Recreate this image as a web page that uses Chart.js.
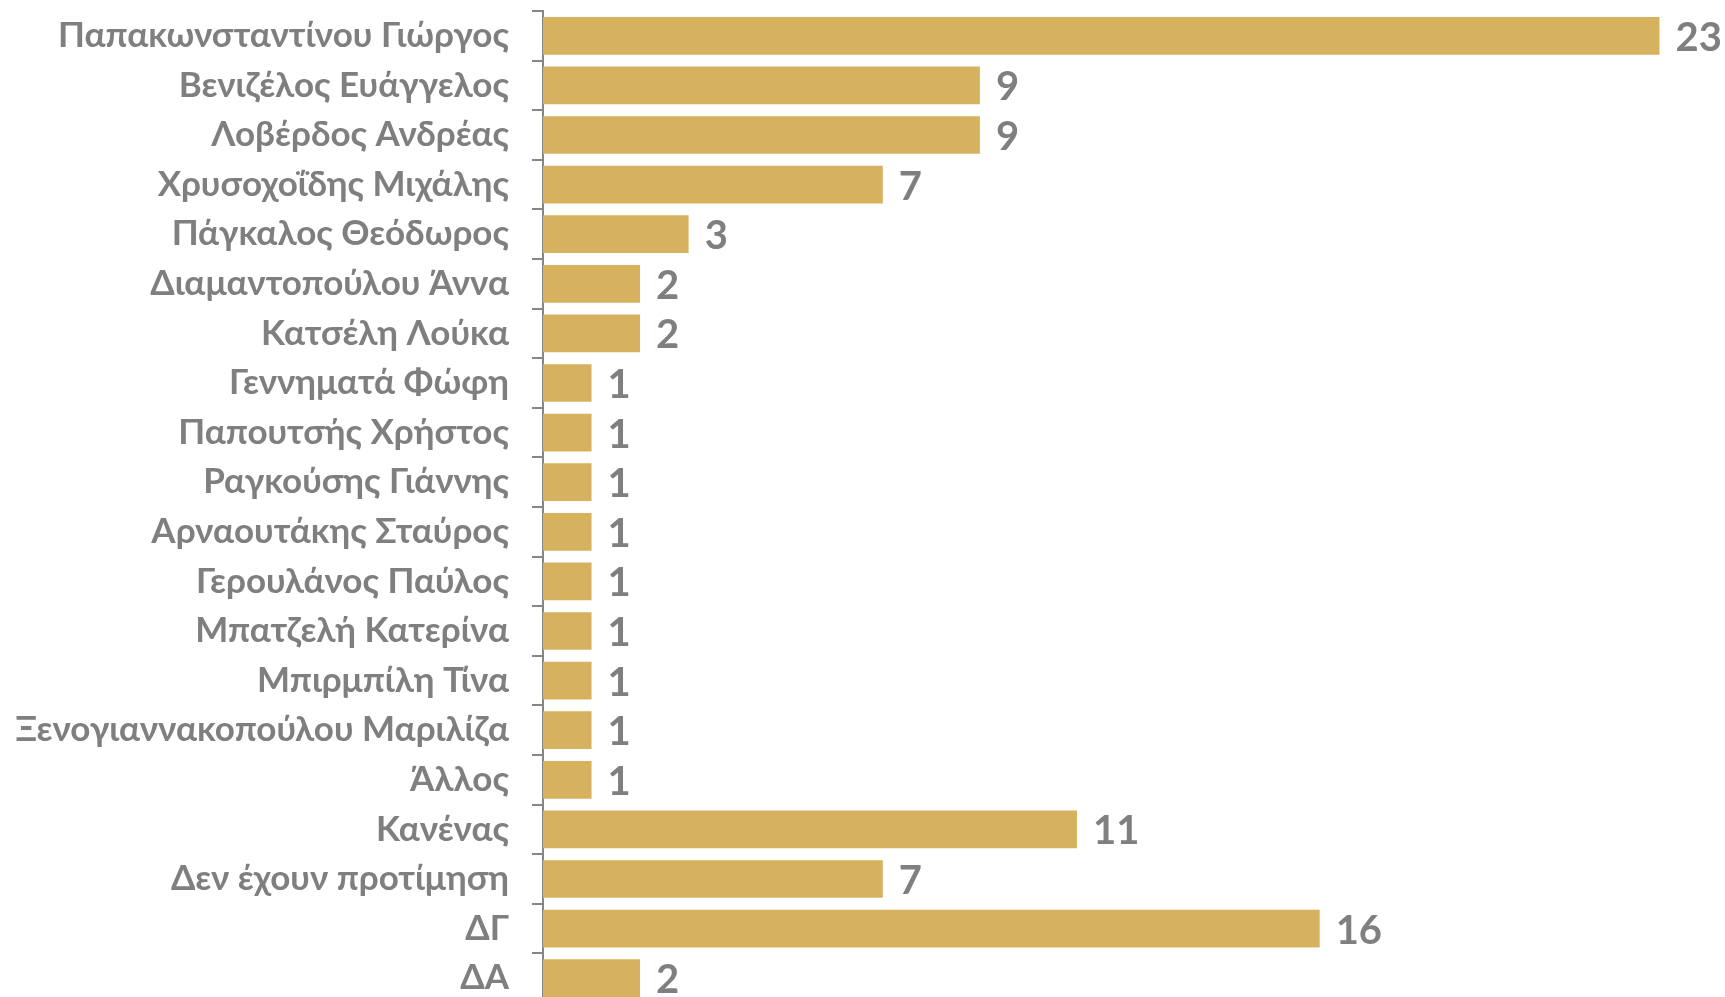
<!DOCTYPE html>
<html>
<head>
<meta charset="utf-8">
<script src="https://cdn.jsdelivr.net/npm/chart.js@4.4.1/dist/chart.umd.min.js"></script>
<style>
  html, body { margin: 0; padding: 0; background: #fff; overflow: hidden; }
  #wrap { position: relative; width: 1725px; height: 1010px; }
</style>
</head>
<body>
<div id="wrap"><canvas id="chart"></canvas></div>
<script>
// categories and values, top to bottom
const names = [
  "Παπακωνσταντίνου Γιώργος",
  "Βενιζέλος Ευάγγελος",
  "Λοβέρδος Ανδρέας",
  "Χρυσοχοΐδης Μιχάλης",
  "Πάγκαλος Θεόδωρος",
  "Διαμαντοπούλου Άννα",
  "Κατσέλη Λούκα",
  "Γεννηματά Φώφη",
  "Παπουτσής Χρήστος",
  "Ραγκούσης Γιάννης",
  "Αρναουτάκης Σταύρος",
  "Γερουλάνος Παύλος",
  "Μπατζελή Κατερίνα",
  "Μπιρμπίλη Τίνα",
  "Ξενογιαννακοπούλου Μαριλίζα",
  "Άλλος",
  "Κανένας",
  "Δεν έχουν προτίμηση",
  "ΔΓ",
  "ΔΑ"
];
const values = [23, 9, 9, 7, 3, 2, 2, 1, 1, 1, 1, 1, 1, 1, 1, 1, 11, 7, 16, 2];

const barColor = "#D7B25E";
const textColor = "#7F7F7F";

// draws the numbers at the end of each bar
const valueLabels = {
  id: "valueLabels",
  afterDatasetsDraw(chart) {
    const ctx = chart.ctx;
    const meta = chart.getDatasetMeta(0);
    ctx.save();
    ctx.font = "bold 40px Lato";
    ctx.fillStyle = textColor;
    ctx.textAlign = "left";
    ctx.textBaseline = "middle";
    meta.data.forEach((bar, i) => {
      ctx.fillText(String(values[i]), bar.x + 16, bar.y + 2);
    });
    ctx.restore();
  }
};

new Chart(document.getElementById("chart"), {
  type: "bar",
  data: {
    labels: names,
    datasets: [{
      data: values,
      backgroundColor: barColor,
      borderWidth: 0,
      categoryPercentage: 1,
      barPercentage: 0.76
    }]
  },
  options: {
    indexAxis: "y",
    responsive: true,
    maintainAspectRatio: false,
    animation: false,
    layout: { padding: { top: 11, bottom: 7, left: 0, right: 17 } },
    plugins: {
      legend: { display: false },
      tooltip: { enabled: false }
    },
    scales: {
      x: {
        display: false,
        min: 0,
        max: 24
      },
      y: {
        afterFit(scale) {
          scale.width = 543;
          scale.paddingTop = 0;
          scale.paddingBottom = 0;
        },
        border: { display: true, color: "#868686", width: 2 },
        grid: {
          drawOnChartArea: false,
          drawTicks: true,
          tickLength: 11,
          color: "#868686",
          lineWidth: 2
        },
        ticks: {
          color: textColor,
          padding: 23,
          font: { family: "Lato", weight: "bold", size: 35 }
        }
      }
    }
  },
  plugins: [valueLabels]
});
</script>
</body>
</html>
